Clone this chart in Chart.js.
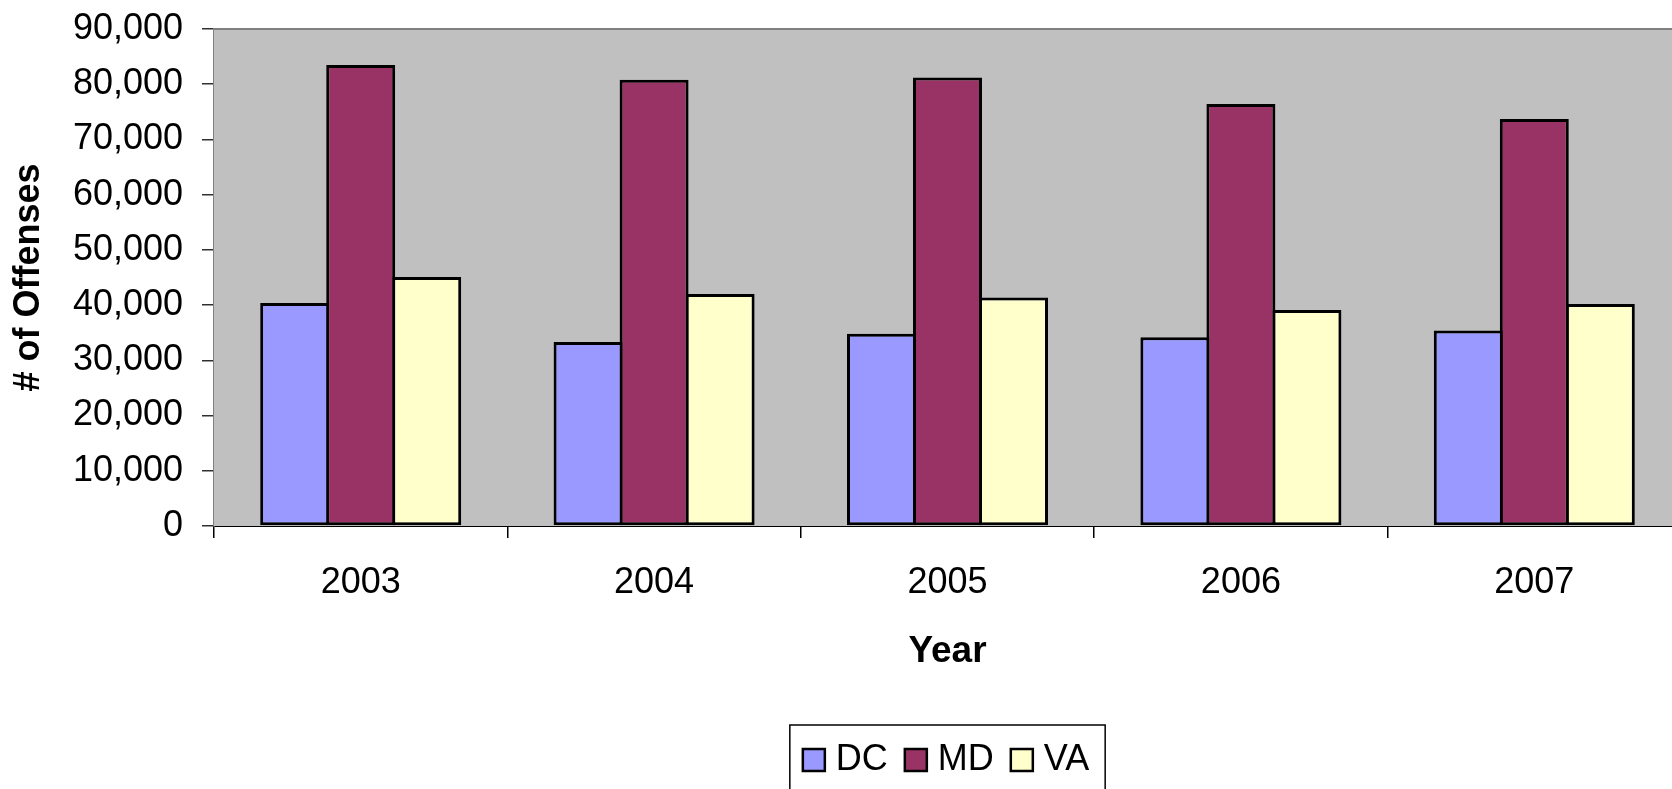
<!DOCTYPE html>
<html>
<head>
<meta charset="utf-8">
<title>Offenses by Year</title>
<script src="https://cdn.jsdelivr.net/npm/chart.js@4.4.1/dist/chart.umd.min.js"></script>
<style>
  html, body { margin: 0; padding: 0; background: #fff; overflow: hidden; }
  #wrap { width: 1690px; height: 789px; }
</style>
</head>
<body>
<div id="wrap"><canvas id="offensesChart" width="1690" height="789"></canvas></div>
<script>
const years = ["2003", "2004", "2005", "2006", "2007"];
const dcOffenses = [40400, 33300, 34800, 34200, 35400];
const mdOffenses = [83500, 80800, 81200, 76400, 73700];
const vaOffenses = [45100, 42000, 41400, 39100, 40200];
const seriesNames = ["DC", "MD", "VA"];
const seriesColors = ["#9999FF", "#993366", "#FFFFCC"];

const FONT = "'Liberation Sans', Arial, sans-serif";
Chart.defaults.font.family = FONT;
Chart.defaults.color = "#000";

// gray plot area with a gray top edge
const plotBackground = {
  id: "plotBackground",
  beforeDatasetsDraw(chart) {
    const { ctx, chartArea: a } = chart;
    ctx.save();
    ctx.fillStyle = "#C0C0C0";
    ctx.fillRect(a.left, a.top, a.right - a.left, a.bottom - a.top);
    ctx.strokeStyle = "#808080";
    ctx.lineWidth = 2;
    ctx.beginPath();
    ctx.moveTo(a.left, a.top);
    ctx.lineTo(a.right, a.top);
    ctx.stroke();
    ctx.restore();
  },
};

// boxed legend under the x axis title
const boxedLegend = {
  id: "boxedLegend",
  afterDraw(chart) {
    const { ctx, chartArea: a } = chart;
    const sets = chart.data.datasets;
    const sq = 22, gapText = 11, gapItem = 17, padL = 13, padR = 16;
    ctx.save();
    ctx.font = "36px " + FONT;
    let total = padL + padR;
    sets.forEach((ds, i) => {
      total += sq + gapText + ctx.measureText(ds.label).width;
      if (i < sets.length - 1) total += gapItem;
    });
    let x = (a.left + a.right) / 2 - total / 2;
    const top = 725;
    ctx.fillStyle = "#fff";
    ctx.fillRect(x, top, total, 100);
    ctx.strokeStyle = "#000";
    ctx.lineWidth = 1.5;
    ctx.strokeRect(x, top, total, 100);
    x += padL;
    sets.forEach((ds) => {
      ctx.fillStyle = ds.backgroundColor;
      ctx.fillRect(x, 749, sq, sq);
      ctx.lineWidth = 2.5;
      ctx.strokeRect(x, 749, sq, sq);
      x += sq + gapText;
      ctx.fillStyle = "#000";
      ctx.textBaseline = "alphabetic";
      ctx.fillText(ds.label, x, 770);
      x += ctx.measureText(ds.label).width + gapItem;
    });
    ctx.restore();
  },
};

new Chart(document.getElementById("offensesChart"), {
  type: "bar",
  data: {
    labels: years,
    datasets: [dcOffenses, mdOffenses, vaOffenses].map((values, i) => ({
      label: seriesNames[i],
      data: values,
      backgroundColor: seriesColors[i],
      borderColor: "#000",
      borderWidth: 3,
      borderSkipped: false,
      categoryPercentage: 0.675,
      barPercentage: 1.045,
    })),
  },
  options: {
    responsive: false,
    animation: false,
    layout: { padding: { left: 0, top: 29, right: 9, bottom: 0 } },
    plugins: {
      legend: { display: false },
      tooltip: { enabled: false },
    },
    scales: {
      x: {
        grid: { drawOnChartArea: false, color: "#000", tickLength: 12, lineWidth: 1.5 },
        border: { color: "#000", width: 2 },
        ticks: { font: { size: 36 }, padding: 23, color: "#000" },
        title: {
          display: true,
          text: "Year",
          font: { size: 37, weight: "bold" },
          padding: { top: 0, bottom: 115 },
        },
        afterFit: (scale) => { scale.height = 263; },
      },
      y: {
        min: 0,
        max: 90000,
        grid: { drawOnChartArea: false, color: "#303030", tickLength: 12, lineWidth: 1.5 },
        border: { color: "#808080", width: 2 },
        ticks: {
          stepSize: 10000,
          font: { size: 36 },
          padding: 19,
          color: "#000",
          callback: (v) => v.toLocaleString("en-US"),
        },
        title: {
          display: true,
          text: "# of Offenses",
          font: { size: 36, weight: "bold" },
          padding: { top: 7, bottom: 0 },
        },
        afterFit: (scale) => {
          scale.width = 214;
          scale.paddingTop = 0;
          scale.paddingBottom = 0;
        },
      },
    },
  },
  plugins: [plotBackground, boxedLegend],
});
</script>
</body>
</html>
